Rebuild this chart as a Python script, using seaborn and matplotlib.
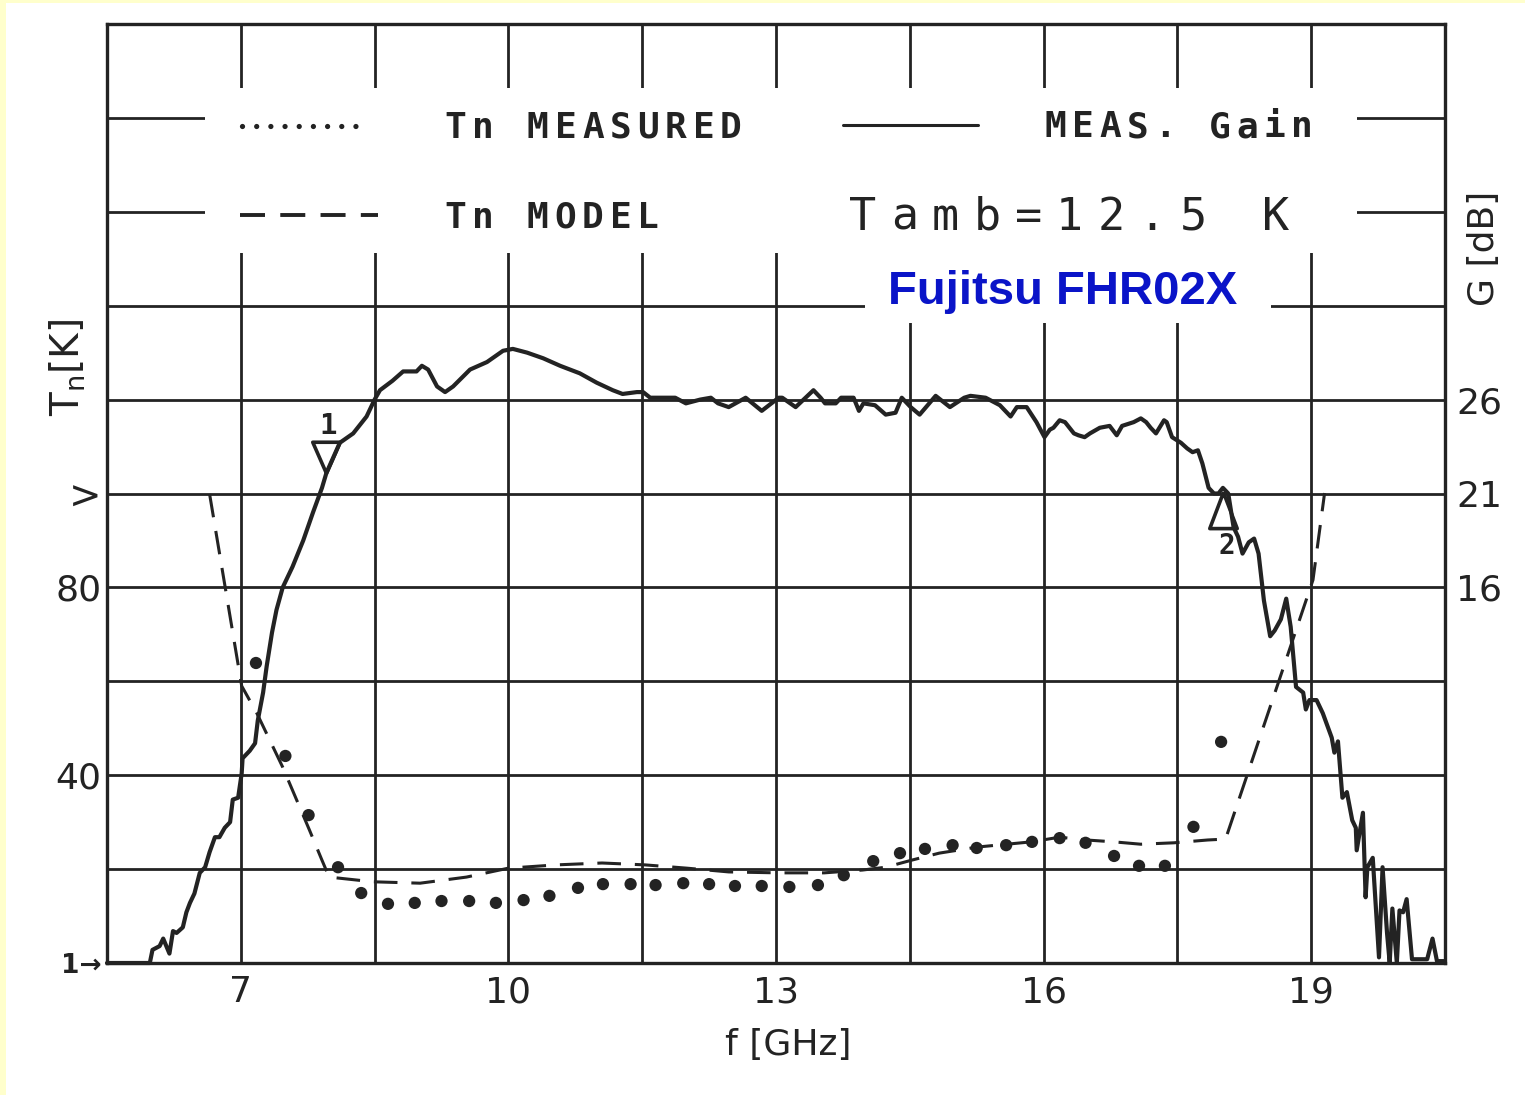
import numpy as np
import matplotlib
matplotlib.use("Agg")
import matplotlib.pyplot as plt
from matplotlib.patches import Rectangle
from matplotlib.lines import Line2D
import seaborn as sns

# ---------------------------------------------------------------------------
# Data
# ---------------------------------------------------------------------------
# Measured gain trace: frequency [GHz] and gain [dB]
gain_freq = [5.50, 5.98, 6.01, 6.09, 6.13, 6.20, 6.24, 6.28, 6.35, 6.39, 6.43, 6.48,
             6.54, 6.60, 6.65, 6.71, 6.76, 6.82, 6.88, 6.91, 6.97, 7.01, 7.02, 7.10,
             7.16, 7.19, 7.25, 7.29, 7.35, 7.40, 7.47, 7.58, 7.70, 7.81, 7.91, 7.96,
             8.11, 8.26, 8.41, 8.50, 8.56, 8.70, 8.82, 8.93, 8.97, 9.03, 9.10, 9.20,
             9.29, 9.38, 9.57, 9.76, 9.94, 10.05, 10.21, 10.39, 10.58, 10.80, 10.99,
             11.17, 11.28, 11.44, 11.51, 11.59, 11.74, 11.87, 11.99, 12.15, 12.27,
             12.35, 12.47, 12.66, 12.84, 13.03, 13.07, 13.22, 13.42, 13.50, 13.55,
             13.67, 13.73, 13.87, 13.93, 13.98, 14.11, 14.23, 14.34, 14.41, 14.51,
             14.61, 14.79, 14.95, 15.11, 15.18, 15.35, 15.51, 15.63, 15.70, 15.81,
             15.92, 16.01, 16.07, 16.11, 16.18, 16.24, 16.34, 16.39, 16.46, 16.52,
             16.63, 16.74, 16.82, 16.88, 17.01, 17.09, 17.15, 17.20, 17.26, 17.35,
             17.38, 17.44, 17.54, 17.61, 17.67, 17.73, 17.78, 17.85, 17.91, 17.96,
             18.01, 18.07, 18.13, 18.18, 18.23, 18.30, 18.36, 18.41, 18.47, 18.54,
             18.59, 18.66, 18.72, 18.77, 18.83, 18.91, 18.94, 18.98, 19.06, 19.13,
             19.23, 19.26, 19.30, 19.35, 19.40, 19.46, 19.50, 19.51, 19.58, 19.61,
             19.63, 19.69, 19.76, 19.80, 19.85, 19.88, 19.91, 19.96, 19.99, 20.03,
             20.07, 20.13, 20.30, 20.36, 20.41, 20.50]
gain_db = [-4.0, -4.0, -3.3, -3.1, -2.7, -3.5, -2.3, -2.4, -2.1, -1.3, -0.8, -0.3,
           0.8, 1.1, 1.9, 2.7, 2.7, 3.2, 3.5, 4.7, 4.8, 6.1, 6.9, 7.3,
           7.7, 8.9, 10.4, 11.8, 13.6, 14.8, 16.0, 17.1, 18.5, 20.0, 21.3, 22.1,
           23.7, 24.2, 25.1, 26.0, 26.5, 27.0, 27.5, 27.5, 27.5, 27.8, 27.6, 26.7,
           26.4, 26.7, 27.6, 28.0, 28.6, 28.7, 28.5, 28.2, 27.8, 27.4, 26.9,
           26.5, 26.3, 26.4, 26.4, 26.1, 26.1, 26.1, 25.8, 26.0, 26.1,
           25.8, 25.6, 26.1, 25.4, 26.1, 26.1, 25.6, 26.5, 26.1, 25.8,
           25.8, 26.1, 26.1, 25.4, 25.8, 25.7, 25.2, 25.3, 26.1, 25.6,
           25.2, 26.2, 25.6, 26.1, 26.2, 26.1, 25.7, 25.1, 25.6, 25.6,
           24.8, 24.0, 24.4, 24.5, 24.9, 24.8, 24.2, 24.1, 24.0, 24.2,
           24.5, 24.6, 24.1, 24.6, 24.8, 25.0, 24.8, 24.5, 24.2, 24.9,
           24.8, 24.0, 23.7, 23.4, 23.2, 23.3, 22.6, 21.3, 21.0, 21.0,
           21.3, 21.0, 19.2, 18.7, 17.8, 18.4, 18.6, 17.8, 15.3, 13.4,
           13.7, 14.3, 15.4, 13.9, 10.7, 10.4, 9.5, 10.0, 10.0, 9.3,
           8.0, 7.2, 7.8, 4.8, 5.1, 3.6, 3.2, 2.0, 4.0, -0.5,
           1.1, 1.6, -3.7, 1.1, -2.4, -4.0, -1.1, -4.0, -1.2, -1.3,
           -0.6, -3.8, -3.8, -2.7, -3.9, -3.9]

# Measured noise temperature: frequency [GHz] and Tn [K]
tn_meas_freq = [7.17, 7.50, 7.76, 8.09, 8.35, 8.65, 8.95, 9.25, 9.56, 9.86, 10.17,
                10.46, 10.78, 11.06, 11.37, 11.65, 11.96, 12.25, 12.54, 12.84, 13.15,
                13.47, 13.76, 14.09, 14.39, 14.67, 14.98, 15.25, 15.58, 15.87, 16.18,
                16.47, 16.79, 17.07, 17.36, 17.68, 17.99]
tn_meas_k = [63.9, 44.1, 31.5, 20.4, 14.9, 12.6, 12.8, 13.2, 13.2, 12.8, 13.4,
             14.3, 16.0, 16.8, 16.8, 16.6, 17.0, 16.8, 16.4, 16.4, 16.2,
             16.6, 18.7, 21.7, 23.4, 24.3, 25.1, 24.5, 25.1, 25.8, 26.6,
             25.6, 22.8, 20.7, 20.7, 29.0, 47.1]

# Modelled noise temperature: frequency [GHz] and Tn [K]
tn_model_freq = [6.65, 7.01, 7.18, 7.47, 7.77, 7.91, 7.99, 8.48, 9.01, 9.53, 10.00,
                 10.54, 11.05, 11.53, 12.00, 12.47, 13.02, 13.54, 13.97, 14.23, 14.52,
                 14.83, 15.26, 15.86, 16.18, 16.48, 16.79, 17.09, 17.46, 17.84, 18.04,
                 19.02, 19.15]
tn_model_k = [99.9, 59.0, 53.2, 41.7, 28.3, 21.9, 18.3, 17.3, 17.0, 18.3, 20.2,
              20.9, 21.3, 20.9, 20.2, 19.4, 19.2, 19.2, 19.8, 20.4, 21.9,
              23.4, 24.7, 25.8, 26.8, 26.2, 25.8, 25.3, 25.6, 26.2, 26.4,
              81.6, 100.1]

# Band-edge markers placed on the gain trace
marker_freq = [7.96, 18.01]
marker_db = [22.1, 21.1]
marker_labels = ["1", "2"]

# Axis ticks and labels
freq_tick_values = [7, 10, 13, 16, 19]
tn_tick_values = [0, 40, 80, 100]
tn_tick_labels = ["1\u2192", "40", "80", ">"]
gain_tick_values = [16, 21, 26]

# ---------------------------------------------------------------------------
# Style
# ---------------------------------------------------------------------------
sns.set_theme(style="white")
plt.rcParams["font.family"] = ["DejaVu Sans"]
plt.rcParams["mathtext.fontset"] = "dejavusans"
plt.rcParams["lines.scale_dashes"] = False

INK = "#232323"
W, H = 1525, 1095
MONO = "DejaVu Sans Mono"


def fx(px):
    return px / W


def fy(py):
    return 1 - py / H


fig = plt.figure(figsize=(W / 100, H / 100), dpi=100, facecolor="#FFFFCC")
# white sheet on the pale yellow page
fig.add_artist(Rectangle((fx(6), 0), 1 - fx(6), fy(3), transform=fig.transFigure,
                         facecolor="white", edgecolor="none", zorder=-1))

ax = fig.add_axes([fx(107), fy(963), 1338 / W, 939 / H])
ax.set_facecolor("white")
ax2 = ax.twinx()

# Tn curves on the left axis
sns.lineplot(x=tn_model_freq, y=tn_model_k, ax=ax, color=INK, linewidth=2.2,
             sort=False, estimator=None, zorder=3)
ax.lines[-1].set_dashes((17, 10))
sns.scatterplot(x=tn_meas_freq, y=tn_meas_k, ax=ax, color=INK, s=78,
                edgecolor="none", zorder=3)

# Gain trace on the right axis
sns.lineplot(x=gain_freq, y=gain_db, ax=ax2, color=INK, linewidth=3.0,
             sort=False, estimator=None, zorder=3)
gain_line = ax2.lines[-1]
gain_line.set_clip_on(False)
gain_line.set_solid_joinstyle("round")

# Marker triangles: tip sits on the trace
tri_down = [(0, 0), (-0.44, 1.0), (0.44, 1.0), (0, 0)]
tri_up = [(0, 0), (-0.38, -1.0), (0.38, -1.0), (0, 0)]
ax2.plot(marker_freq[0], marker_db[0], marker=tri_down, ms=45, mfc="none",
         mec=INK, mew=2.6, ls="none", zorder=4)
ax2.plot(marker_freq[1], marker_db[1], marker=tri_up, ms=52, mfc="none",
         mec=INK, mew=2.6, ls="none", zorder=4)
ax2.annotate(marker_labels[0], (marker_freq[0], marker_db[0]), xytext=(1.5, 34),
             textcoords="offset points", ha="center", va="center",
             fontsize=21, fontweight="bold", family=MONO, color=INK)
ax2.annotate(marker_labels[1], (marker_freq[1], marker_db[1]), xytext=(3, -39),
             textcoords="offset points", ha="center", va="center",
             fontsize=20, fontweight="bold", family=MONO, color=INK)

# Limits, grid and ticks
x_grid = np.arange(5.5, 20.51, 1.5)
y_grid = np.arange(0, 201, 20)
ax.set_xlim(5.5, 20.5)
ax.set_ylim(0, 200)
ax2.set_ylim(-4, 46)

ax.set_xticks(x_grid)
ax.set_xticklabels([f"{v:g}" if v in freq_tick_values else "" for v in x_grid])
ax.set_yticks(y_grid)
tn_map = dict(zip(tn_tick_values, tn_tick_labels))
ax.set_yticklabels([tn_map.get(int(v), "") for v in y_grid])
ax.grid(True, color=INK, linewidth=2.0)
ax.set_axisbelow(True)
ax.tick_params(axis="both", length=0, labelsize=26, labelcolor=INK)
ax.tick_params(axis="x", pad=9)
ax.tick_params(axis="y", pad=4)
for lbl in ax.get_yticklabels():
    if lbl.get_text().startswith("1"):
        lbl.set_fontweight("bold")
        lbl.set_fontsize(19)
    elif lbl.get_text() == ">":
        lbl.set_fontsize(28)

ax2.set_yticks(gain_tick_values)
ax2.set_yticklabels([str(v) for v in gain_tick_values])
ax2.grid(False)
ax2.tick_params(axis="y", length=0, labelsize=26, labelcolor=INK, pad=8)
ax.set_xlabel("")
ax.set_ylabel("")
ax2.set_ylabel("")
for s in ax.spines.values():
    s.set_linewidth(2.4)
    s.set_color(INK)
for s in ax2.spines.values():
    s.set_visible(False)

# Legend panel
ax.add_artist(Rectangle((fx(205), fy(253)), 1152 / W, 165 / H, transform=fig.transFigure,
                        facecolor="white", edgecolor="none", zorder=1))
ax.add_artist(Rectangle((fx(865), fy(323)), 406 / W, 70 / H, transform=fig.transFigure,
                        facecolor="white", edgecolor="none", zorder=1))

ax.add_artist(Line2D([fx(242), fx(368)], [fy(126), fy(126)], transform=fig.transFigure,
                     color=INK, linewidth=3.8, linestyle=(0, (0.01, 10.2)),
                     dash_capstyle="round", zorder=4))
ax.add_artist(Line2D([fx(240), fx(378)], [fy(215), fy(215)], transform=fig.transFigure,
                     color=INK, linewidth=2.8, linestyle=(0, (18, 11)), zorder=4))
ax.add_artist(Line2D([fx(843), fx(978)], [fy(125), fy(125)], transform=fig.transFigure,
                     color=INK, linewidth=2.2, zorder=4))


def plotter_text(s, x_first, baseline, pitch, size, weight="normal"):
    """Write s in evenly pitched characters, pen-plotter style."""
    for i, ch in enumerate(s):
        if ch == " ":
            continue
        fig.text(fx(x_first + i * pitch), fy(baseline), ch, ha="center",
                 va="baseline", fontsize=size, fontweight=weight, family=MONO,
                 color=INK, zorder=5)


plotter_text("Tn MEASURED", 455, 138, 27.6, 26, "bold")
plotter_text("Tn MODEL", 455, 228, 27.6, 26, "bold")
plotter_text("MEAS. Gain", 1055, 137, 27.4, 26, "bold")
plotter_text("Tamb=12.5 K", 863, 230, 41.3, 32.5)

fig.text(fx(888), fy(304), "Fujitsu FHR02X", ha="left", va="baseline",
         fontsize=34, fontweight="bold", family=["Liberation Sans", "DejaVu Sans"],
         color="#0A14C8", zorder=5)

# Axis titles
fig.text(fx(788), fy(1045), "f [GHz]", ha="center", va="center", fontsize=26,
         color=INK)
fig.text(fx(68), fy(367), r"T$_\mathregular{n}$[K]", ha="center", va="center",
         rotation=90, fontsize=28, color=INK)
fig.text(fx(1484), fy(248), "G [dB]", ha="center", va="center", rotation=90,
         fontsize=26, color=INK)

fig.savefig("out.png", dpi=100, facecolor=fig.get_facecolor())
